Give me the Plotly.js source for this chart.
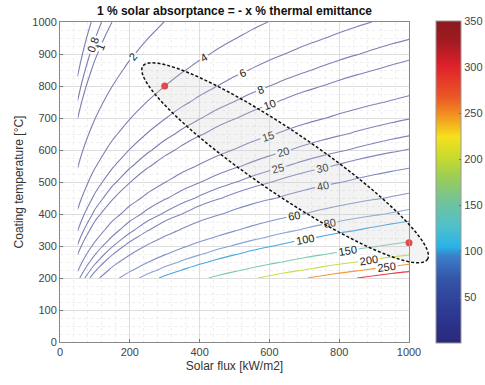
<!DOCTYPE html>
<html>
<head>
<meta charset="utf-8">
<script src="https://cdn.plot.ly/plotly-3.0.1.min.js"></script>
<style>html,body{margin:0;padding:0;background:#fff;}#chart{width:485px;height:385px;}</style>
</head>
<body>
<div id="chart"></div>
<script>
// ---- data ----
var flux = [50,100,150,200,250,300,350,400,450,500,550,600,650,700,750,800,850,900,950,1000]; // kW/m2
var temps = [200,225,250,275,300,325,350,400,450,500,550,600,650,700,750,800,850,900,950,1000]; // degC
// x value per kW/m2 of solar flux, at each coating temperature
var ratioPerFlux = [0.3524,0.2867,0.2357,0.1956,0.1636,0.1379,0.1171,0.0860,0.06455,0.0494,0.03844,0.03036,0.0243,0.01968,0.0161,0.01331,0.01109,0.009316,0.007883,0.006716];
var levels = [0.6,0.8,1,2,4,6,8,10,15,20,25,30,40,60,80,100,150,200,250,300];
var pointFlux = [300,1000];
var pointTemp = [800,310];

// ---- table built from the arrays ----
var zGrid = temps.map(function(t,i){ return flux.map(function(q){ return q*ratioPerFlux[i]; }); });

var cmin = 0, cmax = 350;
var scale = [
  [0,'#29297a'],[0.1,'#2e3a94'],[0.2,'#3456a8'],[0.27,'#3a7fcb'],[0.3,'#2ab3e8'],
  [0.36,'#4ec0cc'],[0.44,'#72c39a'],[0.51,'#98cc5a'],[0.57,'#c4d92f'],[0.64,'#f5e11c'],
  [0.7,'#f39a1f'],[0.76,'#ec5a25'],[0.86,'#e0202a'],[0.94,'#a01a20'],[1,'#8b1a1e']
];
function hex2rgb(h){ return [parseInt(h.substr(1,2),16),parseInt(h.substr(3,2),16),parseInt(h.substr(5,2),16)]; }
function colorAt(v, lighten){
  var f = Math.max(0, Math.min(1, (v-cmin)/(cmax-cmin)));
  var k = 0;
  while(k < scale.length-2 && f > scale[k+1][0]) k++;
  var a = scale[k], b = scale[k+1];
  var t = (f-a[0])/(b[0]-a[0]);
  var ca = hex2rgb(a[1]), cb = hex2rgb(b[1]);
  var c = ca.map(function(x,i){ var y = x + (cb[i]-x)*t; return Math.round(y + (255-y)*lighten); });
  return 'rgb('+c.join(',')+')';
}

var FONT = 'Liberation Sans, Arial, sans-serif';
var traces = levels.map(function(L){
  return {
    type:'contour', x:flux, y:temps, z:zGrid,
    autocontour:false,
    contours:{start:L, end:L, size:1000, coloring:'none', showlabels:true,
      labelfont:{family:FONT, size:11, color:'#222'}},
    line:{color:colorAt(L, L < 90 ? 0.4 : 0.12), width:1.1, smoothing:1},
    showscale:false, hoverinfo:'skip'
  };
});
traces.push({
  type:'scatter', mode:'markers', x:pointFlux, y:pointTemp,
  marker:{color:'#e8262a', size:7}, cliponaxis:false, hoverinfo:'skip'
});
traces.push({
  type:'scatter', mode:'markers', x:[null], y:[null],
  marker:{color:[0], cmin:cmin, cmax:cmax, colorscale:scale, showscale:true,
    colorbar:{x:1.077, xanchor:'left', xref:'paper', y:0.5, yanchor:'middle', len:1.005, lenmode:'fraction',
      thickness:25, thicknessmode:'pixels', outlinewidth:1, outlinecolor:'#999', xpad:0, ypad:0,
      tickvals:[50,100,150,200,250,300,350], ticks:'inside', ticklen:2, tickcolor:'#666',
      tickfont:{family:FONT, size:11, color:'#444'}}},
  hoverinfo:'skip'
});

// ---- ellipse (annotation) ----
var M = {l:60, r:76, t:22, b:43, autoexpand:false};
var W = 485, H = 385;
var pw = W - M.l - M.r, ph = H - M.t - M.b;
var ell = {cx:645, cy:560, a:172, b:31, ang:34.2}; // centre in data units, semi-axes px, angle deg
var th = ell.ang*Math.PI/180;
var pts = [];
for(var i=0;i<=120;i++){
  var t = i/120*2*Math.PI;
  var dx = ell.a*Math.cos(t)*Math.cos(th) + ell.b*Math.sin(t)*Math.sin(th);
  var dy = -ell.a*Math.cos(t)*Math.sin(th) + ell.b*Math.sin(t)*Math.cos(th);
  var px = ell.cx/1000 + dx/pw, py = ell.cy/1000 + dy/ph;
  pts.push((i===0?'M':'L') + px.toFixed(5) + ',' + py.toFixed(5));
}
var path = pts.join(' ') + ' Z';

var layout = {
  width:W, height:H, margin:M, showlegend:false,
  paper_bgcolor:'#fff', plot_bgcolor:'#fff',
  font:{family:FONT, size:11, color:'#444'},
  title:{text:'<b>1 % solar absorptance = - x % thermal emittance</b>', x:0.5, xref:'paper', xanchor:'center',
    y:0.972, yref:'container', yanchor:'middle', font:{family:FONT, size:12, color:'#111'}},
  xaxis:{range:[0,1000], dtick:200, tick0:0, showgrid:true, gridcolor:'#dedede', gridwidth:1,
    minor:{dtick:40, showgrid:true, gridcolor:'#eeeeee', griddash:'dot'},
    ticks:'inside', ticklen:3, tickcolor:'#777', showline:true, linecolor:'#888', mirror:true, zeroline:false,
    tickfont:{family:FONT, size:11, color:'#444'},
    title:{text:'Solar flux [kW/m2]', standoff:4, font:{family:FONT, size:12, color:'#333'}}},
  yaxis:{range:[0,1000], dtick:100, tick0:0, showgrid:true, gridcolor:'#dedede', gridwidth:1,
    minor:{dtick:25, showgrid:true, gridcolor:'#eeeeee', griddash:'dot'},
    ticks:'inside', ticklen:3, tickcolor:'#777', showline:true, linecolor:'#888', mirror:true, zeroline:false,
    tickfont:{family:FONT, size:11, color:'#444'},
    title:{text:'Coating temperature [°C]', standoff:6, font:{family:FONT, size:12, color:'#333'}}},
  shapes:[{type:'path', xref:'paper', yref:'paper', path:path, layer:'above',
    fillcolor:'rgba(200,200,200,0.22)', line:{color:'#111', width:1.5, dash:'3px,2px'}}]
};

Plotly.newPlot('chart', traces, layout, {staticPlot:true, displayModeBar:false});
</script>
</body>
</html>
